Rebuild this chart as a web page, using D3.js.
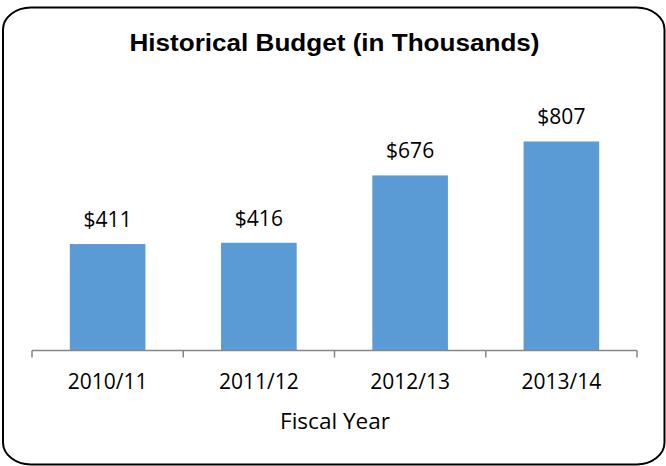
<!DOCTYPE html>
<html>
<head>
<meta charset="utf-8">
<script src="https://cdn.jsdelivr.net/npm/d3@7"></script>
<style>
  html, body { margin: 0; padding: 0; background: #fff; }
  svg { display: block; }
</style>
</head>
<body>
<svg id="chart" width="666" height="466"></svg>
<script>
// Annual budget, in thousands of dollars
const fiscalYears = ["2010/11", "2011/12", "2012/13", "2013/14"];
const budgetValues = [411, 416, 676, 807];
const chartTitle = "Historical Budget (in Thousands)";
const axisTitle = "Fiscal Year";

const svg = d3.select("#chart");

// Rounded outer frame
svg.append("rect")
  .attr("x", 3).attr("y", 7.5)
  .attr("width", 661.5).attr("height", 457)
  .attr("rx", 28).attr("ry", 22)
  .attr("fill", "#fff")
  .attr("stroke", "#000")
  .attr("stroke-width", 2);

// Title
svg.append("text")
  .attr("x", 334.5).attr("y", 51)
  .attr("text-anchor", "middle")
  .attr("font-family", "'Liberation Sans', Arial, sans-serif")
  .attr("font-weight", "bold")
  .attr("font-size", 23)
  .attr("textLength", 410)
  .attr("lengthAdjust", "spacingAndGlyphs")
  .attr("fill", "#000")
  .text(chartTitle);

const x = d3.scaleBand()
  .domain(fiscalYears)
  .range([32, 637])
  .paddingInner(0.5)
  .paddingOuter(0.25);

const y = d3.scaleLinear()
  .domain([0, 900])
  .range([350.5, 117.4]);

const labelFont = "'Open Sans', 'Noto Sans', sans-serif";
const labelSize = 21;

// Bars
svg.append("g").selectAll("rect")
  .data(fiscalYears)
  .join("rect")
  .attr("x", (d) => x(d))
  .attr("width", x.bandwidth())
  .attr("y", (d, i) => y(budgetValues[i]))
  .attr("height", (d, i) => y(0) - y(budgetValues[i]))
  .attr("fill", "#5B9BD5");

// Value labels
svg.append("g").selectAll("text")
  .data(fiscalYears)
  .join("text")
  .attr("x", (d) => x(d) + x.bandwidth() / 2)
  .attr("y", (d, i) => y(budgetValues[i]) - 17)
  .attr("text-anchor", "middle")
  .attr("font-family", labelFont)
  .attr("font-size", labelSize)
  .attr("fill", "#000")
  .text((d, i) => "$" + budgetValues[i]);

// Category axis: labels centred on bands, ticks on band boundaries
const step = x.step();
const boundaries = d3.range(fiscalYears.length + 1).map((i) => 32 + i * step);
const axisG = svg.append("g");
axisG.append("line")
  .attr("x1", 32).attr("x2", 637)
  .attr("y1", y(0)).attr("y2", y(0))
  .attr("stroke", "#868686").attr("stroke-width", 1.5);
axisG.selectAll("line.tick")
  .data(boundaries)
  .join("line")
  .attr("class", "tick")
  .attr("x1", (d) => d).attr("x2", (d) => d)
  .attr("y1", y(0)).attr("y2", y(0) + 7)
  .attr("stroke", "#868686").attr("stroke-width", 1.5);

const axis = d3.axisBottom(x).tickSize(0).tickPadding(0);
const tickG = svg.append("g")
  .attr("transform", "translate(0, 389)")
  .call(axis);
tickG.select(".domain").remove();
tickG.selectAll("text")
  .attr("dy", 0)
  .attr("y", 0)
  .attr("font-family", labelFont)
  .attr("font-size", labelSize)
  .attr("fill", "#000");

// Axis title
svg.append("text")
  .attr("x", 335).attr("y", 429)
  .attr("text-anchor", "middle")
  .attr("font-family", labelFont)
  .attr("font-size", labelSize)
  .attr("textLength", 110)
  .attr("lengthAdjust", "spacingAndGlyphs")
  .attr("fill", "#000")
  .text(axisTitle);
</script>
</body>
</html>
